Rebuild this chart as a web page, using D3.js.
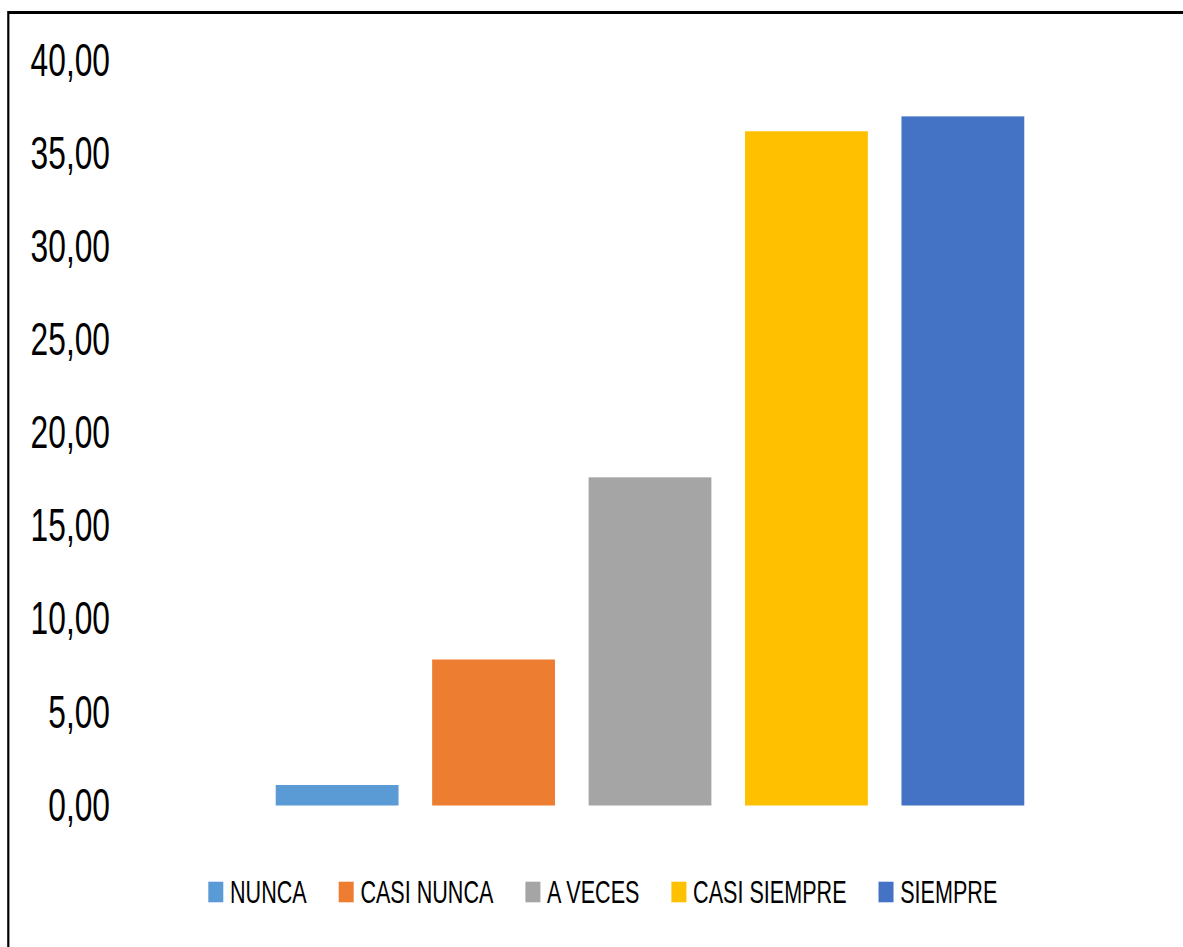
<!DOCTYPE html>
<html>
<head>
<meta charset="utf-8">
<script src="https://cdn.jsdelivr.net/npm/d3@7"></script>
<style>
  body { margin: 0; background: #fff; }
  svg { display: block; }
  text { font-family: "Liberation Sans", Arial, sans-serif; fill: #000; }
</style>
</head>
<body>
<div id="chart"></div>
<script>
// data
const categories = ["NUNCA", "CASI NUNCA", "A VECES", "CASI SIEMPRE", "SIEMPRE"];
const values = [1.10, 7.84, 17.62, 36.20, 37.00];
const colors = ["#5B9BD5", "#ED7D31", "#A5A5A5", "#FFC000", "#4472C4"];
const yTicks = [0, 5, 10, 15, 20, 25, 30, 35, 40];

const width = 1183, height = 947;
const squeeze = 0.69; // text in the picture is narrow
const legSqueeze = 0.685;

let svg = d3.select("#chart").append("svg")
    .attr("width", width)
    .attr("height", height);

// frame (only top and left visible)
svg.append("line")
    .attr("x1", 8).attr("x2", width)
    .attr("y1", 12.5).attr("y2", 12.5)
    .attr("stroke", "#000").attr("stroke-width", 3);
svg.append("line")
    .attr("x1", 8.3).attr("x2", 8.3)
    .attr("y1", 11).attr("y2", height)
    .attr("stroke", "#000").attr("stroke-width", 2.2);

const y = d3.scaleLinear().domain([0, 40]).range([805.5, 60.5]);
const x = d3.scaleBand()
    .domain(categories)
    .range([258.9, 1041.1])
    .paddingInner(0.215)
    .paddingOuter(0.1075);

const locale = d3.formatLocale({ decimal: ",", thousands: ".", grouping: [3], currency: ["", ""] });
const fmt = locale.format(".2f");

// y axis labels
const yAxis = svg.append("g")
    .attr("transform", "translate(110,0)")
    .call(d3.axisLeft(y).tickValues(yTicks).tickFormat(fmt).tickSize(0).tickPadding(0));
yAxis.select(".domain").remove();
yAxis.selectAll("text")
    .attr("x", 0)
    .attr("transform", "scale(" + squeeze + ",1)")
    .style("font-family", "\"Liberation Sans\", Arial, sans-serif")
    .style("font-size", "46px")
    .attr("fill", "#000");

// bars
svg.append("g")
    .selectAll("rect")
    .data(categories)
    .enter()
    .append("rect")
    .attr("x", function (d) { return x(d); })
    .attr("y", function (d, i) { return y(values[i]); })
    .attr("width", x.bandwidth())
    .attr("height", function (d, i) { return y(0) - y(values[i]); })
    .attr("fill", function (d, i) { return colors[i]; });

// legend
const legend = svg.append("g");
let lx = 208.3;
categories.forEach(function (c, i) {
    legend.append("rect")
        .attr("x", lx).attr("y", 881.7)
        .attr("width", 15).attr("height", 20.6)
        .attr("fill", colors[i]);
    let t = legend.append("text")
        .attr("transform", "translate(" + (lx + 21.7) + ",903.3) scale(" + legSqueeze + ",1)")
        .style("font-size", "31.5px")
        .text(c);
    let w = t.node().getComputedTextLength() * legSqueeze;
    lx += 21.7 + w + 32;
});
</script>
</body>
</html>
